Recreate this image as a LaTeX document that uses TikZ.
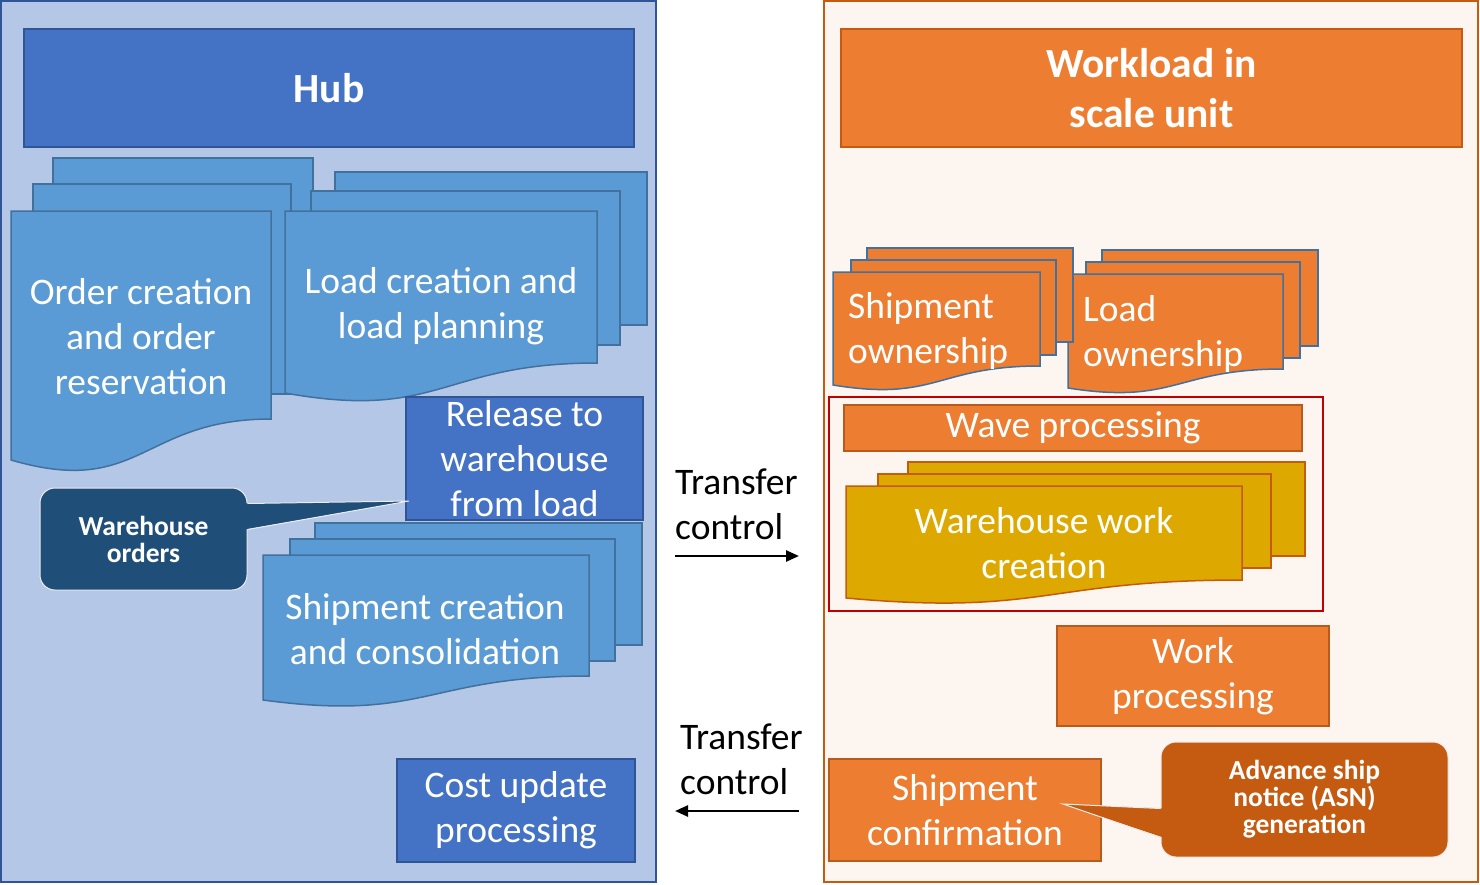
\documentclass[tikz,border=0pt]{standalone}
\usepackage{fontspec}
\setmainfont{Carlito}
\usetikzlibrary{arrows.meta,positioning,calc}
\definecolor{hubpanel}{HTML}{B4C7E7}
\definecolor{hubline}{HTML}{2F5597}
\definecolor{hubblue}{HTML}{4472C4}
\definecolor{docblue}{HTML}{5B9BD5}
\definecolor{docline}{HTML}{41719C}
\definecolor{navy}{HTML}{1F4E79}
\definecolor{supanel}{HTML}{FDF5F0}
\definecolor{suline}{HTML}{C55A11}
\definecolor{orange}{HTML}{ED7D31}
\definecolor{orangeline}{HTML}{B85A1C}
\definecolor{rust}{HTML}{C55A11}
\definecolor{gold}{HTML}{DDA800}
\definecolor{redframe}{HTML}{C00000}
% one page of a stack: fill, line, x0, y0, x1, y1
\newcommand{\pagebox}[6]{\draw[fill=#1,draw=#2,line width=1.5pt] (#3,#4) rectangle (#5,#6);}
% front page with wavy foot: fill, line, x0, y0, x1, right foot, dip, left foot
\newcommand{\docfront}[8]{\draw[fill=#1,draw=#2,line width=1.5pt] (#3,#4) -- (#5,#4) -- (#5,#6)
	.. controls ({(#3+#5)/2},#6) and ({(#3+#5)/2},#7) .. (#3,#8) -- cycle;}

\begin{document}
\begin{tikzpicture}[x=1pt,y=-1pt,% pixel grid, y grows downwards
		every node/.style={
			align=center,		% so that "\\" breaks the line
			inner sep=0pt,
			text=white,
			font=\fontsize{37.5}{45}\selectfont
		},
		box/.style={rectangle,line width=2pt},
		title/.style={box,font=\bfseries\fontsize{41.5}{50}\selectfont},
		callout/.style={rectangle,rounded corners=15pt,draw=white!85!gray,line width=1pt,
			font=\bfseries\fontsize{27.5}{27}\selectfont},
		note/.style={text=black,align=left,anchor=west},
		flow/.style={line width=2.5pt,-{Triangle[length=13pt,width=11pt]}}
	]
	\useasboundingbox (0,0) rectangle (1480,884);

	% the two halves
	\draw[fill=hubpanel,draw=hubline,line width=2pt] (1,1) rectangle (656,882);
	\draw[fill=supanel,draw=suline,line width=2pt] (824,1) rectangle (1478,882);

	\node[title,fill=hubblue,draw=hubline,minimum width=610pt,minimum height=118pt](R1) at (329,88){Hub};
	\node[title,fill=orange,draw=suline,minimum width=621pt,minimum height=118pt](R2) at (1151.5,88){Workload in\\scale unit};

	% hub side
	\pagebox{docblue}{docline}{53}{158}{313}{375}
	\pagebox{docblue}{docline}{33}{184}{291}{394}
	\docfront{docblue}{docline}{11}{211}{271}{419}{498}{460}
	\node(R3) at (141,337){Order creation\\and order\\reservation};

	\pagebox{docblue}{docline}{335}{172}{647}{325}
	\pagebox{docblue}{docline}{311}{191}{620}{345}
	\docfront{docblue}{docline}{285}{211}{597}{363}{421}{393}
	\node(R5) at (441,306){Load creation and\\load planning};

	\node[box,fill=hubblue,draw=hubline,minimum width=237pt,minimum height=123pt](R4) at (524.5,458.5){Release to\\warehouse\\from load};

	\node[callout,fill=navy,minimum width=207pt,minimum height=102pt](R6) at (143.5,539){Warehouse\\orders};
	\coordinate(P1) at ($(R4.south west)+(4,-20)$);
	\fill[navy] ($(R6.north east)+(-3,16)$) -- (P1) -- ($(R6.north east)+(-3,42)$) -- cycle;
	\draw[white!85!gray,line width=1pt] ($(R6.north east)+(0,16)$) -- (P1) -- ($(R6.north east)+(0,42)$);

	\pagebox{docblue}{docline}{315}{523}{642}{645}
	\pagebox{docblue}{docline}{290}{539}{615}{661}
	\docfront{docblue}{docline}{263}{555}{589}{676}{722}{700}
	\node(R7) at (425,629){Shipment creation\\and consolidation};

	\node[box,fill=hubblue,draw=hubline,minimum width=238pt,minimum height=103pt](R8) at (516,810.5){Cost update\\processing};

	% hand over between hub and scale unit
	\node[note](T1) at (675,504){Transfer\\control};
	\coordinate(A1) at (675,556);
	\coordinate(A2) at (799,556);
	\draw[flow] (A1) -- (A2);
	\node[note](T2) at (680,759){Transfer\\control};
	\coordinate(A3) at (799,811);
	\coordinate(A4) at (675,811);
	\draw[flow] (A3) -- (A4);

	% scale unit side
	\pagebox{orange}{docline}{1102}{250}{1318}{346}
	\pagebox{orange}{docline}{1086}{262}{1300}{358}
	\docfront{orange}{docline}{1068}{274}{1283}{369}{405}{388}
	\node[align=left,anchor=west](R10) at (1083,334){Load\\ownership};

	\pagebox{orange}{docline}{867}{248}{1073}{342}
	\pagebox{orange}{docline}{851}{260}{1056}{355}
	\docfront{orange}{docline}{833}{272}{1040}{366}{402}{385}
	\node[align=left,anchor=west](R9) at (848,331){Shipment\\ownership};

	\draw[redframe,line width=2pt] (829,397) rectangle (1323,611);
	\node[box,fill=orange,draw=orangeline,minimum width=458pt,minimum height=46pt](R11) at (1073,428){Wave processing};

	\pagebox{gold}{rust}{908}{462}{1305}{556}
	\pagebox{gold}{rust}{878}{474}{1271}{568}
	\docfront{gold}{rust}{846}{486}{1242}{580}{616}{598}
	\node(R12) at (1044,543){Warehouse work\\creation};

	\node[box,fill=orange,draw=orangeline,minimum width=272pt,minimum height=100pt](R13) at (1193,676){Work\\processing};
	\node[box,fill=orange,draw=orangeline,minimum width=272pt,minimum height=102pt](R14) at (965,810){Shipment\\confirmation};

	\node[callout,fill=rust,minimum width=287pt,minimum height=115pt](R15) at (1304.5,799.5){Advance ship\\notice (ASN)\\generation};
	\coordinate(P2) at ($(R14.north east)+(-39,46)$);
	\fill[rust] ($(R15.north west)+(3,67)$) -- (P2) -- ($(R15.north west)+(3,96)$) -- cycle;
	\draw[white!85!gray,line width=1pt] ($(R15.north west)+(0,67)$) -- (P2) -- ($(R15.north west)+(0,96)$);
\end{tikzpicture}
\end{document}
